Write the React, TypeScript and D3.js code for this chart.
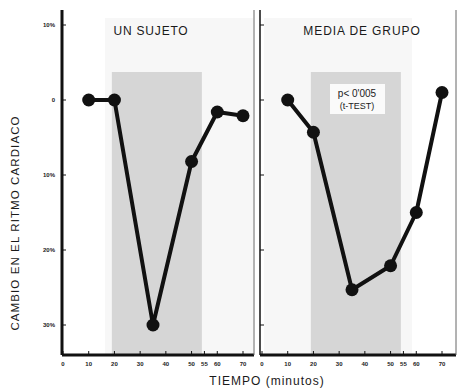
import React from "react";
import * as d3 from "d3";

const width = 458;
const height = 388;

// minutes at which heart rate was measured
const times = [10, 20, 35, 50, 60, 70];
// % change in heart rate
const sujeto = [0, 0, -30, -8.2, -1.6, -2.1];
const grupo = [0, -4.3, -25.3, -22.1, -15, 1];

const xTicks = [0, 10, 20, 30, 40, 50, 55, 60, 70];
const yTicks = [10, 0, -10, -20, -30];
const yTickLabels = ["10%", "0", "10%", "20%", "30%"];

// shaded time window (minutes)
const shadeWindow = [19, 54];

const panels = [
  { title: "UN SUJETO", values: sujeto, range: [63, 243], axisX: 62, right: 254, thick: true },
  { title: "MEDIA DE GRUPO", values: grupo, range: [262, 442], axisX: 260, right: 456, thick: false }
];

const font = "'Liberation Sans', Arial, sans-serif";

export default function App() {
  const y = d3.scaleLinear().domain([-30, 10]).range([325, 25]);
  const bottom = 355;

  return (
    <svg width={width} height={height} style={{ position: "absolute", left: 0, top: 0, background: "#fff" }}>
      {panels.map((p, pi) => {
        const x = d3.scaleLinear().domain([0, 70]).range(p.range);
        const line = d3
          .line<number>()
          .x((_, i) => x(times[i]))
          .y((d) => y(d));
        return (
          <g key={pi}>
            {/* faint panel background */}
            <rect
              x={pi === 0 ? 105 : 264}
              y={18}
              width={pi === 0 ? 148 : 148}
              height={bottom - 18}
              fill="#f7f7f7"
            />
            <rect
              x={x(shadeWindow[0])}
              y={72}
              width={x(shadeWindow[1]) - x(shadeWindow[0])}
              height={bottom - 72}
              fill="#d6d6d6"
            />
            <text
              x={pi === 0 ? 151 : 362}
              y={35}
              textAnchor="middle"
              fontFamily={font}
              fontSize={12}
              letterSpacing={pi === 0 ? 0.8 : 0.9}
              fill="#1a1a1a"
            >
              {p.title}
            </text>
            {/* axes */}
            <line x1={p.axisX} x2={p.axisX} y1={10} y2={bottom} stroke="#111" strokeWidth={p.thick ? 3 : 1.5} />
            <line x1={p.axisX} x2={p.right} y1={bottom} y2={bottom} stroke="#111" strokeWidth={3} />
            <line x1={p.right} x2={p.right} y1={10} y2={bottom} stroke="#666" strokeWidth={1} />
            {yTicks.map((t) => (
              <line key={t} x1={p.axisX} x2={p.axisX + 4} y1={y(t)} y2={y(t)} stroke="#111" strokeWidth={1} />
            ))}
            {xTicks.map((t) => (
              <g key={t}>
                <line x1={x(t)} x2={x(t)} y1={bottom} y2={bottom - 4} stroke="#111" strokeWidth={1} />
                <text
                  x={x(t)}
                  y={bottom + 11}
                  textAnchor="middle"
                  fontFamily={font}
                  fontSize={6}
                  fontWeight="bold"
                  fill="#222"
                >
                  {t}
                </text>
              </g>
            ))}
            <path d={line(p.values) || ""} fill="none" stroke="#111" strokeWidth={4} strokeLinejoin="round" />
            {p.values.map((v, i) => (
              <circle key={i} cx={x(times[i])} cy={y(v)} r={6.5} fill="#111" />
            ))}
          </g>
        );
      })}
      {/* y tick labels */}
      {yTicks.map((t, i) => (
        <text
          key={t}
          x={55}
          y={y(t) + 2}
          textAnchor="end"
          fontFamily={font}
          fontSize={6}
          fontWeight="bold"
          fill="#222"
        >
          {yTickLabels[i]}
        </text>
      ))}
      {/* significance label */}
      <rect x={330} y={84} width={55} height={30} fill="#fafafa" />
      <text x={357} y={97} textAnchor="middle" fontFamily={font} fontSize={10} fill="#222">
        p&lt; 0'005
      </text>
      <text x={357} y={109} textAnchor="middle" fontFamily={font} fontSize={9} fill="#222">
        (t-TEST)
      </text>
      <text
        transform={`translate(19, 223) rotate(-90)`}
        textAnchor="middle"
        fontFamily={font}
        fontSize={11.5}
        letterSpacing={1.1}
        fill="#1a1a1a"
      >
        CAMBIO EN EL RITMO CARDIACO
      </text>
      <text
        x={267}
        y={385}
        textAnchor="middle"
        fontFamily={font}
        fontSize={12}
        letterSpacing={1}
        fill="#1a1a1a"
      >
        TIEMPO (minutos)
      </text>
    </svg>
  );
}
